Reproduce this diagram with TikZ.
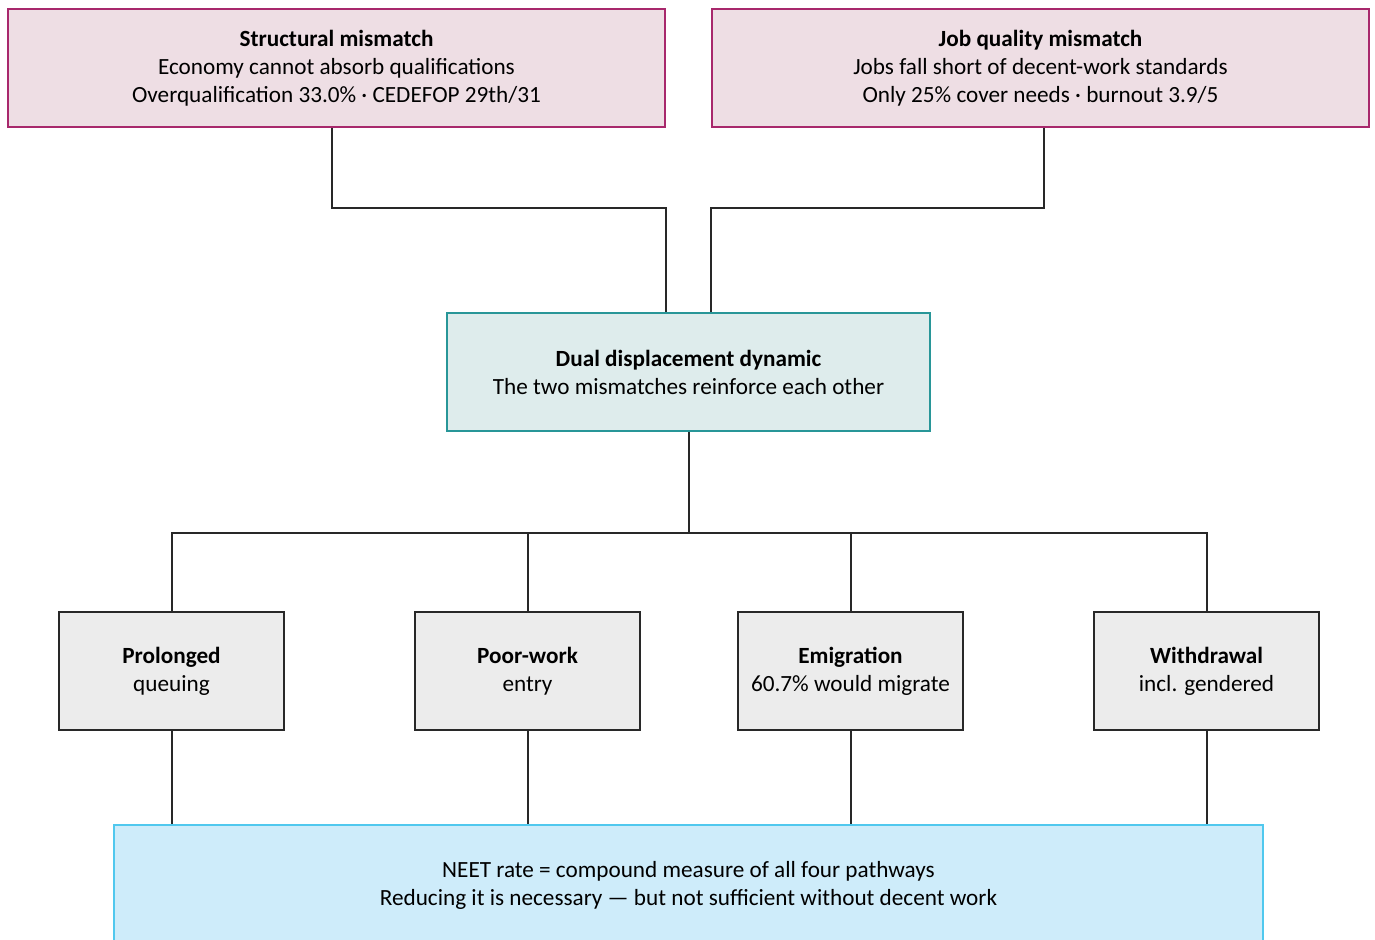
\documentclass[tikz,border=0pt]{standalone}
\usepackage{fontspec}
\setmainfont{Carlito}
\usetikzlibrary{positioning}
\definecolor{mmfill}{RGB}{238,222,228}
\definecolor{mmdraw}{RGB}{168,40,108}
\definecolor{ddfill}{RGB}{222,236,236}
\definecolor{dddraw}{RGB}{40,150,152}
\definecolor{pwfill}{RGB}{236,236,236}
\definecolor{pwdraw}{RGB}{40,40,40}
\definecolor{ntfill}{RGB}{206,236,250}
\definecolor{ntdraw}{RGB}{80,200,238}

\begin{document}
\begin{tikzpicture}[x=0.5pt,y=-0.5pt]
\tikzstyle{box}=[rectangle, draw, line width=1pt, align=center, inner sep=0pt,
  font=\fontsize{11.6}{14}\selectfont, minimum height=59pt]
\tikzstyle{mismatch}=[box, fill=mmfill, draw=mmdraw, minimum width=328.5pt]
\tikzstyle{dynamic}=[box, fill=ddfill, draw=dddraw, minimum width=241.5pt]
\tikzstyle{pathway}=[box, fill=pwfill, draw=pwdraw, minimum width=112.5pt]
\tikzstyle{outcome}=[box, fill=ntfill, draw=ntdraw, minimum width=574.5pt, minimum height=60pt]
\tikzstyle{link}=[draw=pwdraw, line width=1pt]

\clip (0,0) rectangle (1375,940);
\fill[white] (0,0) rectangle (1375,940);

\node[mismatch] (sm) at (336.5,68.5) {\textbf{Structural mismatch}\\Economy cannot absorb qualifications\\Overqualification 33.0\% · CEDEFOP 29th/31};
\node[mismatch] (jq) at (1040.5,68.5) {\textbf{Job quality mismatch}\\Jobs fall short of decent-work standards\\Only 25\% cover needs · burnout 3.9/5};
\node[dynamic] (dd) at (688.5,372) {\textbf{Dual displacement dynamic}\\The two mismatches reinforce each other};
\node[pathway] (pq) at (171.5,671) {\textbf{Prolonged}\\queuing};
\node[pathway] (pw) at (527.5,671) {\textbf{Poor-work}\\entry};
\node[pathway] (em) at (850.5,671) {\textbf{Emigration}\\60.7\% would migrate};
\node[pathway] (wd) at (1206.5,671) {\textbf{Withdrawal}\\incl. gendered};
\node[outcome] (neet) at (688.5,885) {NEET rate = compound measure of all four pathways\\Reducing it is necessary — but not sufficient without decent work};

\coordinate (jl) at (666,208);
\coordinate (jr) at (711,208);
\coordinate (bus) at (688.5,533);
\draw[link] ([xshift=-2.25pt]sm.south) |- (jl) -- (jl |- dd.north);
\draw[link] ([xshift=1.75pt]jq.south) |- (jr) -- (jr |- dd.north);
\draw[link] (dd.south) -- (bus);
\foreach \n in {pq,pw,em,wd}{\draw[link] (bus) -| (\n.north); \draw[link] (\n.south) -- (\n.south |- neet.north);}
\end{tikzpicture}
\end{document}
